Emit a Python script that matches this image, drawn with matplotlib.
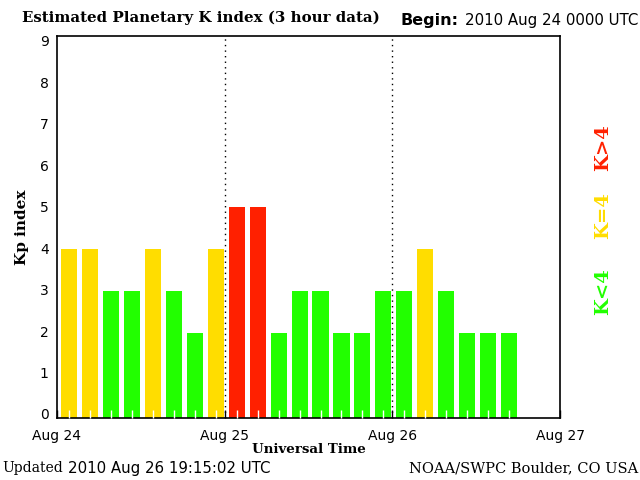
import numpy as np
import matplotlib
matplotlib.use("Agg")
import matplotlib.pyplot as plt

# Kp values, 3-hour slots starting 2010 Aug 24 00 UTC
kp = [4, 4, 3, 3, 4, 3, 2, 4,
      5, 5, 2, 3, 3, 2, 2, 3,
      3, 4, 3, 2, 2, 2]
day_labels = ["Aug 24", "Aug 25", "Aug 26", "Aug 27"]
y_ticks = list(range(10))

green = "#22ff00"
yellow = "#ffdd00"
red = "#ff2000"

def kcolor(k):
    if k < 4:
        return green
    if k == 4:
        return yellow
    return red

hours = np.arange(len(kp)) * 3.0
centers = hours + 1.72
colors = [kcolor(k) for k in kp]

fig = plt.figure(figsize=(6.4, 4.8), dpi=100)
ax = fig.add_axes([57/640, 1 - 418/480, (560-57)/640, (418-36)/480])

ax.bar(centers, kp, width=2.3, color=colors, zorder=2)

ax.set_xlim(0, 72)
ax.set_ylim(0, 9.04)

sans = "DejaVu Sans"
serif = "DejaVu Serif"

ax.set_xticks([0, 24, 48, 72])
ax.set_xticklabels(day_labels, fontsize=10, family=sans)
ax.set_xticks(centers, minor=True)
ax.tick_params(axis="x", which="major", direction="in", length=6, width=1,
               color="black", pad=8)
ax.tick_params(axis="x", which="minor", direction="in", length=6, width=1,
               color="white")
# labels in the original sit slightly inside the ends of the axis
ax.set_yticks([0.095 + 0.981 * v for v in y_ticks])
ax.set_yticklabels([str(v) for v in y_ticks], fontsize=10, family=sans)
ax.tick_params(axis="y", length=0, pad=6)
for t in ax.xaxis.get_major_ticks() + ax.xaxis.get_minor_ticks():
    t.tick1line.set_zorder(4)
ax.set_axisbelow(False)

for d in [24, 48]:
    ax.axvline(d, color="black", linestyle=(0, (1, 3)), linewidth=1, zorder=3)

for s in ax.spines.values():
    s.set_linewidth(1.2)

ax.set_ylabel("Kp index", family=serif, fontweight="bold", fontsize=11, labelpad=8)
ax.set_xlabel("Universal Time", family=serif, fontweight="bold", fontsize=9.6, labelpad=0)

fig.text(22/640, 1 - 18/480, "Estimated Planetary K index (3 hour data)",
         family=serif, fontweight="bold", fontsize=10.8, va="center", ha="left")
fig.text(400/640, 1 - 21/480, "Begin:", family=sans,
         fontweight="bold", fontsize=11.5, va="center", ha="left")
fig.text(465/640, 1 - 21/480, "2010 Aug 24 0000 UTC", family=sans,
         fontsize=10.8, va="center", ha="left")

fig.text(2/640, 1 - 468/480, "Updated", family=serif, fontsize=10,
         va="center", ha="left")
fig.text(68/640, 1 - 468/480, "2010 Aug 26 19:15:02 UTC", family=sans,
         fontsize=10.8, va="center", ha="left")
fig.text(638/640, 1 - 468/480, "NOAA/SWPC Boulder, CO USA", family=serif,
         fontsize=10.5, va="center", ha="right")

fig.text(603/640, 1 - 292/480, "K<4", color=green, rotation=90, family=serif,
         fontweight="bold", fontsize=14, va="center", ha="center")
fig.text(603/640, 1 - 216/480, "K=4", color=yellow, rotation=90, family=serif,
         fontweight="bold", fontsize=14, va="center", ha="center")
fig.text(603/640, 1 - 148/480, "K>4", color=red, rotation=90, family=serif,
         fontweight="bold", fontsize=14, va="center", ha="center")

fig.savefig("out.png", dpi=100)
